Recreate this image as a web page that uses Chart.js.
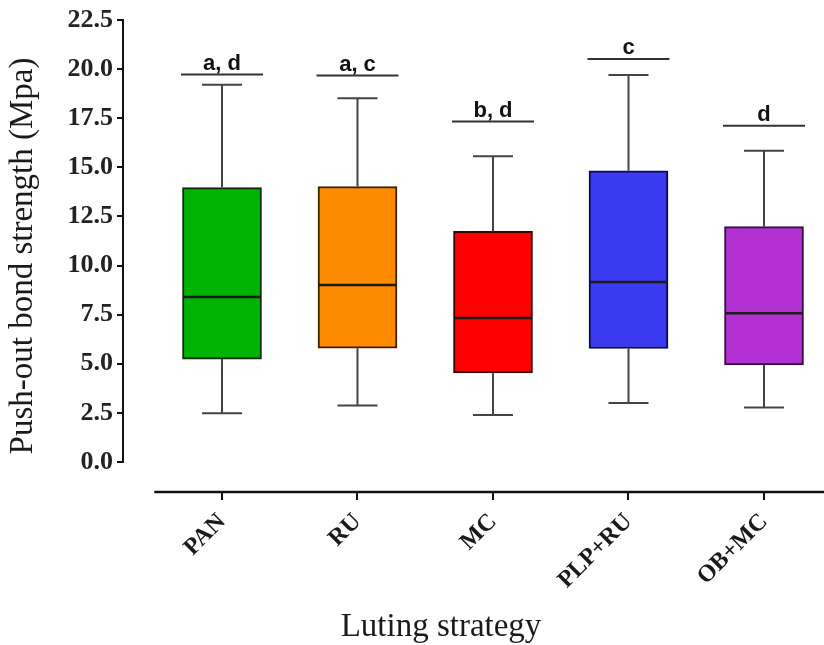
<!DOCTYPE html>
<html>
<head>
<meta charset="utf-8">
<script src="https://cdn.jsdelivr.net/npm/chart.js@4.4.1/dist/chart.umd.min.js"></script>
<style>
  html, body { margin: 0; padding: 0; background: #ffffff; }
  #wrap { width: 824px; height: 645px; position: relative; }
</style>
</head>
<body>
<div id="wrap"><canvas id="c" width="824" height="645"></canvas></div>
<script>
// ---- data ----
const categories = ['PAN', 'RU', 'MC', 'PLP+RU', 'OB+MC'];
const minVals    = [2.48, 2.87, 2.39, 3.00, 2.77];
const q1Vals     = [5.24, 5.79, 4.53, 5.78, 4.94];
const medianVals = [8.40, 9.01, 7.33, 9.16, 7.57];
const q3Vals     = [13.97, 14.02, 11.74, 14.82, 11.98];
const maxVals    = [19.20, 18.52, 15.56, 19.70, 15.85];
const sigLabels  = ['a, d', 'a, c', 'b, d', 'c', 'd'];
const sigLevels  = [19.72, 19.67, 17.33, 20.52, 17.12];
const yTickValues = [0, 2.5, 5, 7.5, 10, 12.5, 15, 17.5, 20, 22.5];
const xTitle = 'Luting strategy';
const yTitle = 'Push-out bond strength (Mpa)';

const boxColors = ['#00b300', '#ff8c00', '#ff0000', '#3a3af0', '#b22fd2'];
const boxBorders = ['#0c2a0c', '#3a2200', '#3a0000', '#0a0a55', '#331040'];

const extras = {
  id: 'boxExtras',
  afterDatasetsDraw(chart) {
    const { ctx, scales: { x, y } } = chart;
    ctx.save();
    categories.forEach((c, i) => {
      const cx = x.getPixelForValue(i);
      const half = 39;
      // median
      ctx.strokeStyle = '#1a1a1a';
      ctx.lineWidth = 2.5;
      ctx.beginPath();
      const my = y.getPixelForValue(medianVals[i]);
      ctx.moveTo(cx - half, my); ctx.lineTo(cx + half, my);
      ctx.stroke();
      // whiskers
      ctx.strokeStyle = '#444444';
      ctx.lineWidth = 2;
      const capHalf = 20;
      ctx.beginPath();
      ctx.moveTo(cx, y.getPixelForValue(q3Vals[i]));
      ctx.lineTo(cx, y.getPixelForValue(maxVals[i]));
      ctx.moveTo(cx, y.getPixelForValue(q1Vals[i]));
      ctx.lineTo(cx, y.getPixelForValue(minVals[i]));
      ctx.moveTo(cx - capHalf, y.getPixelForValue(maxVals[i]));
      ctx.lineTo(cx + capHalf, y.getPixelForValue(maxVals[i]));
      ctx.moveTo(cx - capHalf, y.getPixelForValue(minVals[i]));
      ctx.lineTo(cx + capHalf, y.getPixelForValue(minVals[i]));
      ctx.stroke();
      // significance bracket + letters
      const sy = y.getPixelForValue(sigLevels[i]);
      ctx.strokeStyle = '#333333';
      ctx.lineWidth = 2;
      ctx.beginPath();
      ctx.moveTo(cx - 41, sy); ctx.lineTo(cx + 41, sy);
      ctx.stroke();
      ctx.fillStyle = '#111111';
      ctx.font = 'bold 22px "Liberation Sans", Arial, sans-serif';
      ctx.textAlign = 'center';
      ctx.textBaseline = 'alphabetic';
      ctx.fillText(sigLabels[i], cx, sy - 5);
    });
    ctx.restore();
  },
  afterDraw(chart) {
    const { ctx, scales: { x, y } } = chart;
    ctx.save();
    ctx.strokeStyle = '#111111';
    // y axis line from 0 to 22.5
    ctx.lineWidth = 2;
    ctx.beginPath();
    ctx.moveTo(chart.chartArea.left, y.getPixelForValue(0) + 1);
    ctx.lineTo(chart.chartArea.left, y.getPixelForValue(22.5) - 1);
    ctx.stroke();
    // x axis line
    ctx.lineWidth = 2.5;
    ctx.beginPath();
    ctx.moveTo(x.getPixelForValue(-0.5), chart.chartArea.bottom);
    ctx.lineTo(chart.width, chart.chartArea.bottom);
    ctx.stroke();
    // x axis title
    ctx.fillStyle = '#1a1a1a';
    ctx.font = '33px "Liberation Serif", "Times New Roman", serif';
    ctx.textAlign = 'center';
    ctx.textBaseline = 'middle';
    ctx.fillText(xTitle, 441, 627);
    ctx.restore();
  }
};

new Chart(document.getElementById('c'), {
  type: 'bar',
  data: {
    datasets: [{
      data: categories.map((c, i) => ({ x: i, y: [q1Vals[i], q3Vals[i]] })),
      backgroundColor: boxColors,
      borderColor: boxBorders,
      borderWidth: 2,
      borderSkipped: false,
      barThickness: 79
    }]
  },
  options: {
    responsive: false,
    animation: false,
    events: [],
    layout: { padding: { top: 20, left: 0, right: 0, bottom: 0 } },
    plugins: { legend: { display: false }, tooltip: { enabled: false } },
    scales: {
      x: {
        type: 'linear',
        offset: false,
        min: -0.7306,
        max: 4.4428,
        afterBuildTicks: (s) => { s.ticks = categories.map((c, i) => ({ value: i })); },
        afterFit: (s) => { s.height = 153; s.paddingLeft = 0; s.paddingRight = 0; },
        border: { display: false },
        grid: { display: true, offset: false, drawOnChartArea: false, drawTicks: true, tickLength: 8, color: '#111111', lineWidth: 2 },
        ticks: {
          autoSkip: false,
          minRotation: 45,
          maxRotation: 45,
          padding: 8,
          color: '#1a1a1a',
          font: { family: '"Liberation Serif", "Times New Roman", serif', size: 24, weight: 'bold' },
          callback: (v) => categories[v]
        },
        title: { display: false }
      },
      y: {
        type: 'linear',
        min: -1.527,
        max: 22.5,
        afterBuildTicks: (s) => { s.ticks = yTickValues.map(v => ({ value: v })); },
        afterFit: (s) => { s.width = 123; s.paddingTop = 0; s.paddingBottom = 0; },
        border: { display: false },
        grid: { display: true, drawOnChartArea: false, drawTicks: true, tickLength: 6, color: '#111111', lineWidth: 2 },
        ticks: {
          padding: 4,
          color: '#222222',
          font: { family: '"Liberation Serif", "Times New Roman", serif', size: 26, weight: 'bold' },
          callback: (v) => Number(v).toFixed(1)
        },
        title: {
          display: true,
          text: yTitle,
          color: '#1a1a1a',
          padding: { top: 4, bottom: 0 },
          font: { family: '"Liberation Serif", "Times New Roman", serif', size: 33, weight: 'normal' }
        }
      }
    }
  },
  plugins: [extras]
});
</script>
</body>
</html>
